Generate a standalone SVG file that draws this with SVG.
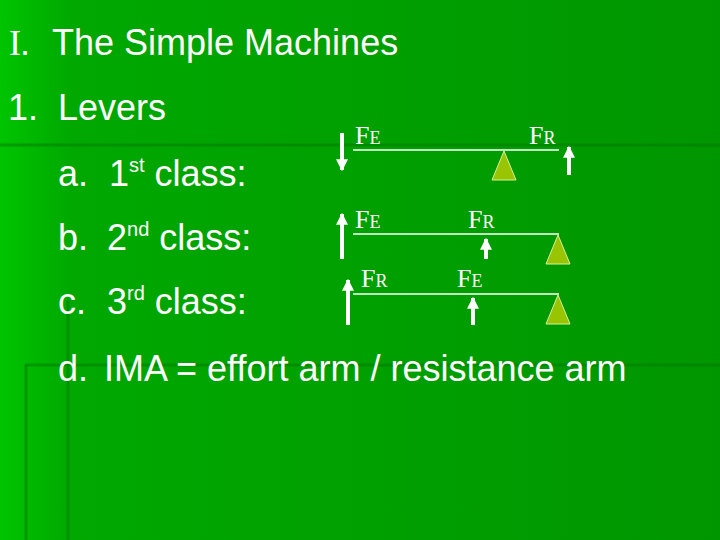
<svg xmlns="http://www.w3.org/2000/svg" width="720" height="540" viewBox="0 0 720 540">
<defs>
<linearGradient id="bg" x1="0" y1="0" x2="1" y2="0">
<stop offset="0" stop-color="#00c400"/><stop offset="0.1" stop-color="#00a800"/><stop offset="1" stop-color="#009600"/>
</linearGradient>
<marker id="ah" viewBox="0 0 10 10" refX="9" refY="5" markerWidth="3" markerHeight="3" orient="auto"><path d="M0,0 L10,5 L0,10 Z" fill="#fff"/></marker>
</defs>
<style>
.t{font-family:"Liberation Sans",Arial,sans-serif;fill:#fff;font-size:36px}
.f{font-family:"Liberation Serif","Times New Roman",serif;fill:#fff;font-size:26px}
.s{font-size:18px}
.sup{font-size:20px}
.lv{stroke:#fff;stroke-width:1.5}
.ar{stroke:#fff;stroke-width:4;marker-end:url(#ah)}
.tri{fill:#99c400;stroke:#d8f0a0;stroke-width:1}
.g{stroke:#007a00;stroke-width:3;opacity:0.5}
</style>
<rect width="720" height="540" fill="url(#bg)"/>
<line class="g" x1="0" y1="145" x2="720" y2="145"/>
<line class="g" x1="68" y1="300" x2="68" y2="540"/>
<line class="g" x1="25" y1="365" x2="720" y2="365"/>
<line class="g" x1="26" y1="365" x2="26" y2="540"/>
<text class="t" y="55"><tspan x="9" font-family="Liberation Serif">I</tspan><tspan x="20">.</tspan><tspan x="52">The Simple Machines</tspan></text>
<text class="t" y="120"><tspan x="8">1.</tspan><tspan x="58">Levers</tspan></text>
<text class="t" y="186"><tspan x="58">a.</tspan><tspan x="109">1</tspan><tspan class="sup" dy="-14">st</tspan><tspan dy="14"> class:</tspan></text>
<text class="t" y="250"><tspan x="58">b.</tspan><tspan x="107">2</tspan><tspan class="sup" dy="-14">nd</tspan><tspan dy="14"> class:</tspan></text>
<text class="t" y="314"><tspan x="58">c.</tspan><tspan x="107">3</tspan><tspan class="sup" dy="-14">rd</tspan><tspan dy="14"> class:</tspan></text>
<text class="t" y="381"><tspan x="58">d.</tspan><tspan x="104">IMA = effort arm / resistance arm</tspan></text>
<g id="lever1">
<line class="lv" x1="353" y1="150" x2="559" y2="150"/>
<polygon class="tri" points="504,151 492,180 516,180"/>
<text class="f" x="355" y="144">F<tspan class="s">E</tspan></text>
<text class="f" x="529" y="144">F<tspan class="s">R</tspan></text>
</g>
<g id="lever2">
<line class="lv" x1="353" y1="234" x2="559" y2="234"/>
<polygon class="tri" points="558,235 546,264 570,264"/>
<text class="f" x="355" y="228">F<tspan class="s">E</tspan></text>
<text class="f" x="468" y="228">F<tspan class="s">R</tspan></text>
</g>
<g id="lever3">
<line class="lv" x1="353" y1="294" x2="559" y2="294"/>
<polygon class="tri" points="558,295 546,324 570,324"/>
<text class="f" x="361" y="287">F<tspan class="s">R</tspan></text>
<text class="f" x="457" y="287">F<tspan class="s">E</tspan></text>
</g>
<g id="connectors">
<line class="ar" x1="342" y1="133" x2="342" y2="170"/>
<line class="ar" x1="569" y1="175" x2="569" y2="147"/>
<line class="ar" x1="342" y1="259" x2="342" y2="214"/>
<line class="ar" x1="486" y1="259" x2="486" y2="239"/>
<line class="ar" x1="348" y1="325" x2="348" y2="280"/>
<line class="ar" x1="473" y1="325" x2="473" y2="298"/>
</g>
</svg>
